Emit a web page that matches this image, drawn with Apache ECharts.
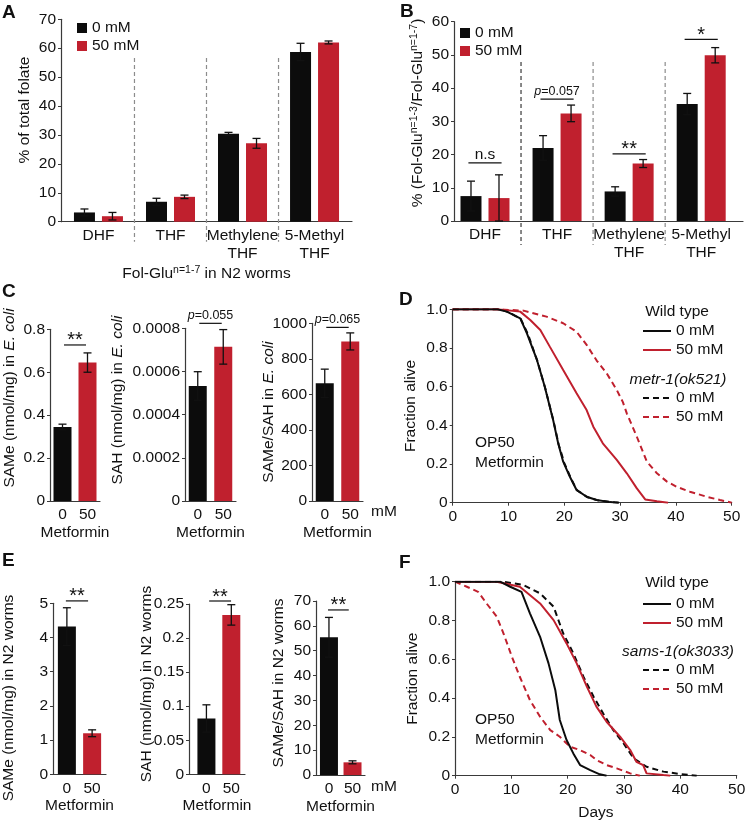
<!DOCTYPE html>
<html><head><meta charset="utf-8">
<script src="https://cdn.jsdelivr.net/npm/echarts@6/dist/echarts.min.js"></script>
<style>html,body{margin:0;padding:0;background:#fff}#c{width:746px;height:823px}</style>
</head><body><div id="c"></div>
<script>
const FONT = '"Liberation Sans", Arial, sans-serif';
const FS = 15.5;
const BLACK = '#0c0c0c', RED = '#c0202e', AXIS = '#3a3a3a', SEP = '#8c8c8c';

// ---------- Panel A ----------
const folateCats = ['DHF', 'THF', 'Methylene\nTHF', '5-Methyl\nTHF'];
const aCtrl = [3.2, 6.9, 30.4, 58.7];
const aCtrlErr = [1.2, 1.2, 0.5, 3.0];
const aMet = [1.9, 8.6, 27.1, 62.0];
const aMetErr = [1.3, 0.6, 1.7, 0.5];
const aTicks = [0, 70, 10];
// ---------- Panel B ----------
const bCtrl = [7.5, 22.0, 8.9, 35.2];
const bCtrlErr = [4.5, 3.7, 1.4, 3.2];
const bMet = [6.9, 32.4, 17.3, 49.9];
const bMetErr = [7.0, 2.5, 1.2, 2.3];
const bSigText = ['n.s', '{i|p}=0.057', '**', '*'];
const bSigY = [17.5, 36.7, 20.2, 54.7];
const bTicks = [0, 60, 10];
// ---------- Panels C / E ----------
const doseLabels = ['0', '50'];
const c1 = [0.345, 0.645], c1Err = [0.013, 0.045];
const c2 = [0.000533, 0.000714], c2Err = [0.000066, 0.00008];
const c3 = [662, 898], c3Err = [80, 48];
const e1 = [4.32, 1.2], e1Err = [0.55, 0.1];
const e2 = [0.082, 0.234], e2Err = [0.02, 0.015];
const e3 = [55.4, 5.1], e3Err = [8, 0.6];
const cSig = [['**', 0.727], ['{i|p}=0.055', 0.000823], ['{i|p}=0.065', 977]];
const eSig = [['**', 5.07], ['**', 0.2544], ['**', 66.4]];
// ---------- Panel D (days, fraction alive) ----------
const dWt0 = [[0,1],[8,1],[9.7,0.988],[12.1,0.953],[13.3,0.876],[15.1,0.738],[16.5,0.6],[18,0.428],[18.9,0.307],[19.8,0.212],[21,0.134],[22.2,0.066],[24,0.031],[25.8,0.014],[28.2,0.003],[29.7,0]];
const dWt50 = [[0,1],[8,1],[12.1,0.988],[13.9,0.945],[15.7,0.893],[17.4,0.807],[19.8,0.686],[22.2,0.566],[24,0.479],[25.2,0.393],[26.9,0.307],[29.4,0.221],[31.2,0.152],[33,0.074],[34.5,0.017],[36.6,0.007],[38.6,0]];
const dMt0 = [[0,1],[8.5,1],[10,0.985],[12.2,0.95],[13.5,0.87],[15.2,0.73],[16.6,0.59],[18,0.43],[19,0.3],[20,0.205],[21.2,0.125],[22.3,0.063],[24.2,0.028],[26,0.012],[29,0.002],[30,0]];
const dMt50 = [[0,1],[8,1],[12.7,0.993],[16.8,0.962],[19.8,0.928],[22.2,0.884],[24,0.816],[25.8,0.735],[27.6,0.669],[29.4,0.583],[30.5,0.52],[31.2,0.462],[33,0.341],[34.8,0.212],[36.6,0.152],[38.4,0.109],[40.1,0.083],[42.5,0.057],[45.5,0.031],[47.9,0.014],[50,0]];
// ---------- Panel F ----------
const fWt0 = [[0,1],[8,1],[9.8,0.974],[11.8,0.948],[13.3,0.837],[15.1,0.716],[16.6,0.579],[17.8,0.442],[18.6,0.287],[19.8,0.184],[21,0.115],[22.2,0.055],[24,0.029],[25.7,0.007],[26.9,0]];
const fWt50 = [[0,1],[7.4,1],[11.5,0.974],[15.1,0.888],[17.5,0.802],[19.8,0.682],[21.6,0.579],[23.4,0.459],[25.1,0.356],[26.9,0.278],[29.3,0.201],[31.1,0.132],[32.2,0.072],[33.4,0.055],[34,0.012],[37,0.003],[38.2,0]];
const fSm0 = [[0,1],[8.6,1],[12.1,0.983],[15.1,0.94],[17.5,0.871],[19.2,0.734],[21,0.631],[22.8,0.51],[24.6,0.407],[26.3,0.321],[28.1,0.235],[29.9,0.167],[31.7,0.089],[34,0.046],[37,0.021],[39.9,0.009],[42.9,0]];
const fSm50 = [[0,1],[2.1,0.974],[4.1,0.948],[5.6,0.888],[7.4,0.82],[8.6,0.734],[10.1,0.613],[11.5,0.51],[13.3,0.39],[15.1,0.304],[16.9,0.235],[18.6,0.201],[20.4,0.149],[22.2,0.132],[24,0.107],[25.1,0.081],[26.9,0.055],[28.7,0.038],[31.1,0.012],[32.8,0]];
const legendNames = {dWt0:'0 mM', dWt50:'50 mM', dMt0:'0 mM', dMt50:'50 mM', fWt0:'0 mM', fWt50:'50 mM', fSm0:'0 mM', fSm50:'50 mM'};

const txt = {fontFamily: FONT, fontSize: FS, color: '#111'};
const italicRich = {i: {fontStyle: 'italic', fontFamily: FONT, fontSize: 12.5, color: '#111'}};

function grid(left, top, width, height) {
  return {left, top, width, height, containLabel: false, outerBoundsMode: 'none'};
}
function yAx(gi, min, max, interval, fmt) {
  return {type: 'value', gridIndex: gi, min, max, interval,
    axisLine: {show: true, onZero: false, lineStyle: {color: AXIS, width: 1.2}},
    axisTick: {show: true, inside: false, length: 3, lineStyle: {color: AXIS}},
    splitLine: {show: false},
    axisLabel: Object.assign({margin: 5, formatter: fmt || (v => String(v))}, txt)};
}
function xCat(gi, min, max, labels, extra) {
  return Object.assign({type: 'value', gridIndex: gi, min, max,
    axisLine: {show: true, onZero: false, lineStyle: {color: AXIS, width: 1.2}},
    axisTick: {show: false}, splitLine: {show: false},
    axisLabel: Object.assign({customValues: labels.map((_, i) => i), formatter: v => labels[Math.round(v)], margin: 5, lineHeight: 18}, txt)}, extra || {});
}
function xNum(gi, extra) {
  return Object.assign({type: 'value', gridIndex: gi, min: 0, max: 50, interval: 10,
    axisLine: {show: true, onZero: false, lineStyle: {color: AXIS, width: 1.2}},
    axisTick: {show: true, length: 3, lineStyle: {color: AXIS}}, splitLine: {show: false},
    axisLabel: Object.assign({margin: 6}, txt)}, extra || {});
}

function barSeries(ax, name, values, errs, colors, off, w) {
  return {type: 'custom', name, xAxisIndex: ax, yAxisIndex: ax, clip: false, z: 3,
    itemStyle: {color: colors[0]},
    data: values.map((v, i) => [i, v, errs[i]]),
    renderItem: (p, api) => {
      const x = api.value(0), v = api.value(1), e = api.value(2);
      const b = api.coord([x, 0]), t = api.coord([x, v]);
      const hi = api.coord([x, v + e])[1], lo = api.coord([x, Math.max(0, v - e)])[1];
      const cx = b[0] + off;
      const color = colors[Math.min(p.dataIndex, colors.length - 1)];
      const ls = {stroke: '#111', lineWidth: 1.3};
      return {type: 'group', children: [
        {type: 'rect', shape: {x: cx - w / 2, y: t[1], width: w, height: b[1] - t[1]}, style: {fill: color}},
        {type: 'line', shape: {x1: cx, y1: hi, x2: cx, y2: lo}, style: ls},
        {type: 'line', shape: {x1: cx - 4, y1: hi, x2: cx + 4, y2: hi}, style: ls},
        {type: 'line', shape: {x1: cx - 4, y1: lo, x2: cx + 4, y2: lo}, style: ls}
      ]};
    }};
}
function sepSeries(ax, n, yTop, below, colors) {
  const xs = [];
  for (let i = 0; i < n - 1; i++) xs.push([i + 0.5]);
  return {type: 'custom', xAxisIndex: ax, yAxisIndex: ax, clip: false, silent: true, z: 1,
    data: xs,
    renderItem: (p, api) => {
      const x = api.value(0);
      const t = api.coord([x, yTop]), b = api.coord([x, 0]);
      return {type: 'line', shape: {x1: t[0], y1: t[1], x2: t[0], y2: b[1] + below},
        style: {stroke: colors[p.dataIndex] || colors[colors.length - 1], lineWidth: 1.2, lineDash: [4, 3]}};
    }};
}
function sigSeries(ax, items, half) {
  return {type: 'custom', xAxisIndex: ax, yAxisIndex: ax, clip: false, silent: true, z: 4,
    data: items.map(it => [it[0], it[1]]),
    renderItem: (p, api) => {
      const x = api.value(0), y = api.value(1);
      const l = api.coord([x - half, y]), r = api.coord([x + half, y]);
      const label = items[p.dataIndex][2];
      const star = label.indexOf('*') >= 0;
      const small = label.indexOf('{i|') >= 0;
      return {type: 'group', children: [
        {type: 'line', shape: {x1: l[0], y1: l[1], x2: r[0], y2: r[1]}, style: {stroke: '#111', lineWidth: 1.2}},
        {type: 'text', style: {text: label, rich: italicRich, x: (l[0] + r[0]) / 2, y: l[1] - (star ? 4 : 8),
          align: 'center', verticalAlign: 'middle', fontFamily: FONT, fontSize: star ? 20 : (small ? 12.5 : FS), fill: '#111'}}
      ]};
    }};
}
function lineSeries(ax, name, data, color, dashed) {
  return {type: 'line', name, xAxisIndex: ax, yAxisIndex: ax, data, symbol: 'none', showSymbol: false,
    lineStyle: {color, width: 2, type: dashed ? [6, 4] : 'solid'}, itemStyle: {color}, z: dashed ? 2 : 3};
}
function vText(x, y, text, extra) {
  return {type: 'text', x, y, rotation: Math.PI / 2, silent: true,
    style: Object.assign({text, align: 'center', verticalAlign: 'middle', fontFamily: FONT, fontSize: FS, fill: '#111',
      rich: {i: {fontStyle: 'italic', fontFamily: FONT, fontSize: FS}, s: {fontSize: 10.5, fontFamily: FONT, verticalAlign: 'top', lineHeight: 18}, n: {fontSize: FS, fontFamily: FONT, lineHeight: 18}}}, extra || {})};
}
function hText(x, y, text, extra) {
  return {type: 'text', x, y, silent: true,
    style: Object.assign({text, align: 'left', verticalAlign: 'middle', fontFamily: FONT, fontSize: FS, fill: '#111'}, extra || {})};
}
const yFix = d => (v => v === 0 ? '0' : v.toFixed(d));
function lineLegend(top, names) {
  return {left: 637, top, orient: 'vertical', itemWidth: 28, itemHeight: 14, itemGap: 3, selectedMode: false,
    itemStyle: {opacity: 0, borderWidth: 0},
    data: names, formatter: n => legendNames[n], textStyle: txt};
}

const ctrlMetColors = [BLACK, RED];
const option = {
  animation: false,
  backgroundColor: '#fff',
  textStyle: {fontFamily: FONT},
  grid: [
    grid(61, 19.3, 291, 202.4),     // A
    grid(454, 21.7, 289, 199.3),    // B
    grid(50, 329.3, 50, 171.7),     // C1
    grid(185, 328.3, 51, 172.7),    // C2
    grid(312, 323.3, 51, 177.7),    // C3
    grid(452.7, 309.3, 279, 193.4), // D
    grid(53, 603.3, 53, 171),       // E1
    grid(189, 604, 56, 170.3),      // E2
    grid(316, 601, 49, 174),        // E3
    grid(455, 581.7, 281.7, 194)    // F
  ],
  xAxis: [
    xCat(0, -0.52, 3.52, folateCats, {name: '{n|Fol-Glu}{s|n=1-7}{n| in N2 worms}', nameLocation: 'middle', nameGap: 43,
      nameTextStyle: {fontFamily: FONT, fontSize: FS, color: '#111', rich: {n: {fontFamily: FONT, fontSize: FS, lineHeight: 18}, s: {fontFamily: FONT, fontSize: 10.5, verticalAlign: 'top', lineHeight: 18}}}}),
    xCat(1, -0.43, 3.58, folateCats),
    xCat(2, -0.5, 1.5, doseLabels, {name: 'Metformin', nameLocation: 'middle', nameGap: 15, nameTextStyle: txt}),
    xCat(3, -0.5, 1.5, doseLabels, {name: 'Metformin', nameLocation: 'middle', nameGap: 15, nameTextStyle: txt}),
    xCat(4, -0.5, 1.5, doseLabels, {name: 'Metformin', nameLocation: 'middle', nameGap: 15, nameTextStyle: txt}),
    xNum(5),
    xCat(6, -0.55, 1.55, doseLabels, {name: 'Metformin', nameLocation: 'middle', nameGap: 22, nameTextStyle: txt}),
    xCat(7, -0.7, 1.55, doseLabels, {name: 'Metformin', nameLocation: 'middle', nameGap: 22, nameTextStyle: txt}),
    xCat(8, -0.55, 1.53, doseLabels, {name: 'Metformin', nameLocation: 'middle', nameGap: 22, nameTextStyle: txt}),
    xNum(9, {name: 'Days', nameLocation: 'middle', nameGap: 29, nameTextStyle: txt})
  ],
  yAxis: [
    yAx(0, aTicks[0], aTicks[1], aTicks[2]),
    yAx(1, bTicks[0], bTicks[1], bTicks[2]),
    yAx(2, 0, 0.8, 0.2, yFix(1)),
    yAx(3, 0, 0.0008, 0.0002, yFix(4)),
    yAx(4, 0, 1000, 200),
    Object.assign(yAx(5, 0, 1, 0.2, yFix(1)), {name: 'Fraction alive', nameLocation: 'middle', nameGap: 34, nameTextStyle: txt}),
    yAx(6, 0, 5, 1),
    yAx(7, 0, 0.25, 0.05),
    yAx(8, 0, 70, 10),
    Object.assign(yAx(9, 0, 1, 0.2, yFix(1)), {name: 'Fraction alive', nameLocation: 'middle', nameGap: 34, nameTextStyle: txt})
  ],
  legend: [
    {left: 72, top: 15, orient: 'vertical', icon: 'rect', itemWidth: 10, itemHeight: 10, itemGap: 2, selectedMode: false,
      data: ['0 mM', '50 mM'], textStyle: txt},
    {left: 455, top: 20, orient: 'vertical', icon: 'rect', itemWidth: 10, itemHeight: 10, itemGap: 2, selectedMode: false,
      data: ['0 mM', '50 mM'], textStyle: txt},
    lineLegend(318, ['dWt0', 'dWt50']),
    lineLegend(385, ['dMt0', 'dMt50']),
    lineLegend(591, ['fWt0', 'fWt50']),
    lineLegend(657, ['fSm0', 'fSm50'])
  ],
  series: [
    sepSeries(0, folateCats.length, 56.6, 20, [SEP]),
    barSeries(0, '0 mM', aCtrl, aCtrlErr, [BLACK], -14, 21),
    barSeries(0, '50 mM', aMet, aMetErr, [RED], 14, 21),
    sepSeries(1, folateCats.length, 47.9, 24, ['#3a3a3a', SEP]),
    barSeries(1, '0 mM', bCtrl, bCtrlErr, [BLACK], -14, 21),
    barSeries(1, '50 mM', bMet, bMetErr, [RED], 14, 21),
    sigSeries(1, bSigY.map((y, i) => [i, y, bSigText[i]]), 0.23),
    barSeries(2, 'c1', c1, c1Err, ctrlMetColors, 0, 18),
    barSeries(3, 'c2', c2, c2Err, ctrlMetColors, 0, 18),
    barSeries(4, 'c3', c3, c3Err, ctrlMetColors, 0, 18),
    sigSeries(2, [[0.5, cSig[0][1], cSig[0][0]]], 0.44),
    sigSeries(3, [[0.5, cSig[1][1], cSig[1][0]]], 0.44),
    sigSeries(4, [[0.5, cSig[2][1], cSig[2][0]]], 0.44),
    barSeries(6, 'e1', e1, e1Err, ctrlMetColors, 0, 18),
    barSeries(7, 'e2', e2, e2Err, ctrlMetColors, 0, 18),
    barSeries(8, 'e3', e3, e3Err, ctrlMetColors, 0, 18),
    sigSeries(6, [[0.4, eSig[0][1], eSig[0][0]]], 0.44),
    sigSeries(7, [[0.55, eSig[1][1], eSig[1][0]]], 0.44),
    sigSeries(8, [[0.4, eSig[2][1], eSig[2][0]]], 0.44),
    lineSeries(5, 'dMt0', dMt0, BLACK, true),
    lineSeries(5, 'dMt50', dMt50, RED, true),
    lineSeries(5, 'dWt50', dWt50, RED, false),
    lineSeries(5, 'dWt0', dWt0, BLACK, false),
    lineSeries(9, 'fSm0', fSm0, BLACK, true),
    lineSeries(9, 'fSm50', fSm50, RED, true),
    lineSeries(9, 'fWt50', fWt50, RED, false),
    lineSeries(9, 'fWt0', fWt0, BLACK, false)
  ],
  graphic: [
    hText(2, 13, 'A', {fontWeight: 'bold', fontSize: 19}),
    hText(400, 12, 'B', {fontWeight: 'bold', fontSize: 19}),
    hText(2, 292, 'C', {fontWeight: 'bold', fontSize: 19}),
    hText(399, 300, 'D', {fontWeight: 'bold', fontSize: 19}),
    hText(2, 561, 'E', {fontWeight: 'bold', fontSize: 19}),
    hText(399, 563, 'F', {fontWeight: 'bold', fontSize: 19}),
    vText(25, 110, '% of total folate'),
    vText(418, 113, '{n|% (Fol-Glu}{s|n=1-3}{n|/Fol-Glu}{s|n=1-7}{n|)}'),
    vText(10, 398, 'SAMe (nmol/mg) in {i|E. coli}'),
    vText(118, 400, 'SAH (nmol/mg) in {i|E. coli}'),
    vText(269, 412, 'SAMe/SAH in {i|E. coli}'),
    vText(9, 698, 'SAMe (nmol/mg) in N2 worms'),
    vText(147, 684, 'SAH (nmol/mg) in N2 worms'),
    vText(279, 683, 'SAMe/SAH in N2 worms'),
    hText(371, 512, 'mM'),
    hText(371, 787, 'mM'),
    hText(677, 312, 'Wild type', {align: 'center'}),
    hText(678, 380, 'metr-1(ok521)', {align: 'center', fontStyle: 'italic'}),
    hText(677, 583, 'Wild type', {align: 'center'}),
    hText(678, 652, 'sams-1(ok3033)', {align: 'center', fontStyle: 'italic'}),
    hText(475, 453, 'OP50\nMetformin', {lineHeight: 20}),
    hText(475, 730, 'OP50\nMetformin', {lineHeight: 20})
  ]
};
const chart = echarts.init(document.getElementById('c'), null, {renderer: 'canvas'});
chart.setOption(option);
</script></body></html>
